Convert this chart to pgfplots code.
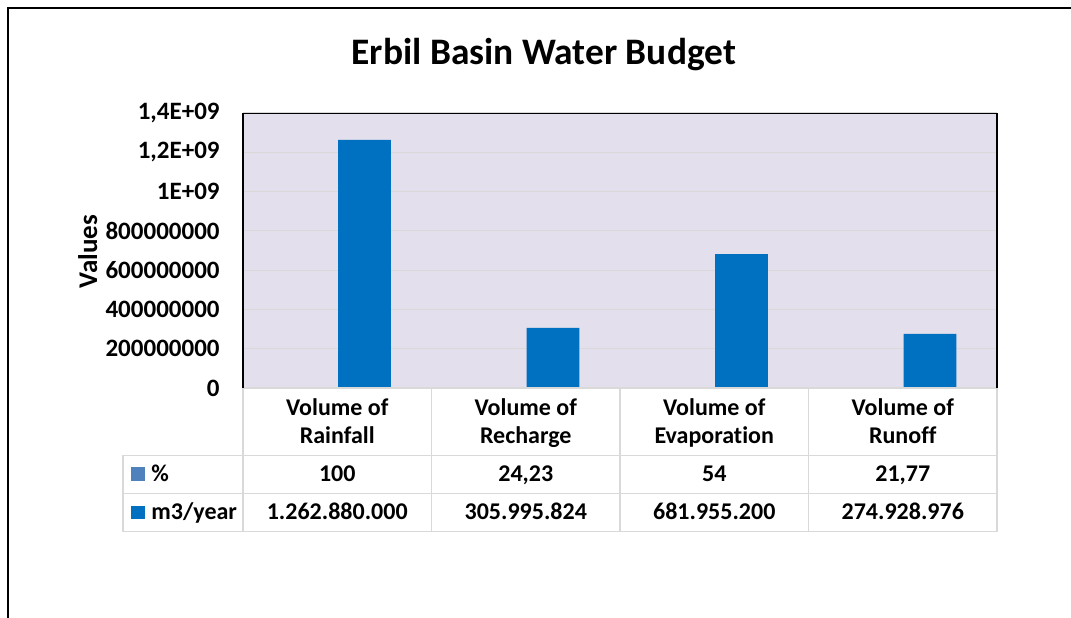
\documentclass[border=0pt]{standalone}
\usepackage{fontspec}
\setmainfont{Carlito}[Ligatures=NoCommon]
\usepackage{pgfplots}
\pgfplotsset{compat=1.18}
\definecolor{barblue}{HTML}{0070C0}
\definecolor{pctblue}{HTML}{4F81BD}
\definecolor{plotbg}{HTML}{E4DFEC}
\definecolor{gridgray}{HTML}{D9D9D9}

\begin{document}
\begin{tikzpicture}[x=0.5pt,y=0.5pt]
\useasboundingbox (0,0) rectangle (1071,617);
\clip (0,0) rectangle (1071,617);

% chart area frame
\draw[line width=1pt] (8,-20) -- (8,609) -- (1090,609);

% title
\node[font=\bfseries\fontsize{18.7}{22}\selectfont, anchor=base, inner sep=0pt]
  at (543.8,552.7) {Erbil Basin Water Budget};

\begin{axis}[
  at={(121.5pt,114.5pt)}, anchor=south west,
  scale only axis, width=377pt, height=137.5pt,
  xmin=-0.5, xmax=3.5, ymin=0, ymax=1.4e9,
  xtick=\empty,
  ytick={0,2e8,4e8,6e8,8e8,1e9,1.2e9,1.4e9},
  yticklabels={0,200000000,400000000,600000000,800000000,1E+09,{1,2E+09},{1,4E+09}},
  scaled y ticks=false,
  major tick length=0pt,
  yticklabel style={font=\bfseries\fontsize{12.5}{14}\selectfont, inner sep=0pt, xshift=-11.5pt},
  ymajorgrids, grid style={gridgray, line width=0.6pt},
  axis background/.style={fill=plotbg},
  axis line style={draw=none},
  ybar,
]
% percentage series (tiny on this scale)
\addplot[fill=pctblue, draw=none, bar width=0.28, bar shift=-0.14]
  coordinates {(0,100) (1,24.23) (2,54) (3,21.77)};
% annual volumes, m3/year
\addplot[fill=barblue, draw=none, bar width=0.28, bar shift=0.145]
  coordinates {(0,1262880000) (1,305995824) (2,681955200) (3,274928976)};
\draw[black, line width=0.8pt] (rel axis cs:0,0) -- (rel axis cs:0,1)
  -- (rel axis cs:1,1) -- (rel axis cs:1,0);
\end{axis}

% y axis title
\node[rotate=90, anchor=base, inner sep=0pt, font=\bfseries\fontsize{13.5}{15}\selectfont]
  at (97,365.5) {Values};

% data table grid
\begin{scope}[gridgray, line width=0.7pt]
  \draw (243,229) -- (997,229);
  \draw (123,161.7) -- (997,161.7);
  \draw (123,123.3) -- (997,123.3);
  \draw (123,85.3) -- (997,85.3);
  \draw (123,161.7) -- (123,85.3);
  \draw (243,229) -- (243,85.3);
  \foreach \x in {431.5,620,808.5} \draw (\x,229) -- (\x,85.3);
  \draw (997,229) -- (997,85.3);
\end{scope}
\draw[black, line width=0.8pt] (243,229) -- (243,504);
\draw[black, line width=0.8pt] (997,229) -- (997,504);

\begin{scope}[every node/.style={font=\bfseries\fontsize{12}{14}\selectfont, anchor=base, inner sep=0pt}]
  % category headers
  \node at (337.25,202) {Volume of};  \node at (337.25,173.7) {Rainfall};
  \node at (525.75,202) {Volume of};  \node at (525.75,173.7) {Recharge};
  \node at (714.25,202) {Volume of};  \node at (714.25,173.7) {Evaporation};
  \node at (902.75,202) {Volume of};  \node at (902.75,173.7) {Runoff};
  % series rows
  \fill[pctblue] (131,136.5) rectangle (145,150);
  \node[anchor=base west] at (151,136) {\%};
  \node at (337.25,136) {100};
  \node at (525.75,136) {24,23};
  \node at (714.25,136) {54};
  \node at (902.75,136) {21,77};
  \fill[barblue] (131,98) rectangle (145,111.5);
  \node[anchor=base west] at (151,97.7) {m3/year};
  \node at (337.25,97.7) {1.262.880.000};
  \node at (525.75,97.7) {305.995.824};
  \node at (714.25,97.7) {681.955.200};
  \node at (902.75,97.7) {274.928.976};
\end{scope}
\end{tikzpicture}
\end{document}
